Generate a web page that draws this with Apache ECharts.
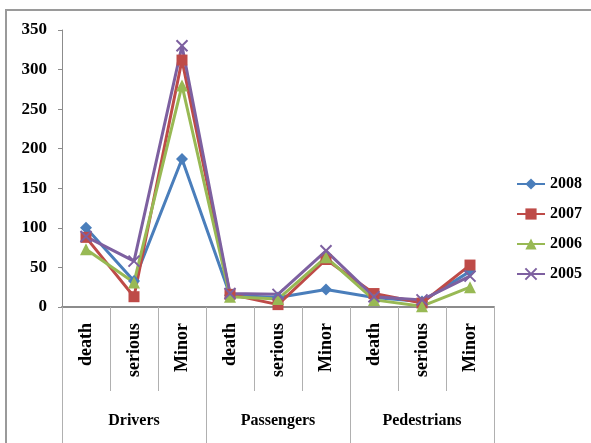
<!DOCTYPE html>
<html>
<head>
<meta charset="utf-8">
<script src="https://cdn.jsdelivr.net/npm/echarts@6/dist/echarts.min.js"></script>
<style>
  html, body { margin: 0; padding: 0; background: #fff; }
  #chart { width: 591px; height: 443px; }
</style>
</head>
<body>
<div id="chart"></div>
<script>
// Casualty categories (inner axis) and road-user groups (outer axis)
const categories = ['death', 'serious', 'Minor', 'death', 'serious', 'Minor', 'death', 'serious', 'Minor'];
const groups = ['Drivers', 'Passengers', 'Pedestrians'];
const yTicks = [0, 50, 100, 150, 200, 250, 300, 350];

// Yearly counts per category
const y2008 = [100, 33, 187, 15, 12, 22, 12, 7, 45];
const y2007 = [88, 13, 312, 16, 3, 60, 17, 5, 53];
const y2006 = [73, 31, 280, 13, 10, 63, 9, 1, 25];
const y2005 = [89, 58, 330, 17, 16, 71, 13, 9, 39];

const FONT = '"Liberation Serif", "Times New Roman", serif';
const crossPath = 'path://M0,0L10,10M10,0L0,10';

function lineSeries(name, data, color, symbol, size) {
  return {
    name: name,
    type: 'line',
    data: data,
    symbol: symbol,
    symbolSize: size,
    xAxisIndex: 0,
    lineStyle: { width: 3, color: color },
    itemStyle: { color: color, borderColor: color, borderWidth: symbol === crossPath ? 2 : 0 },
    z: 3
  };
}

const chart = echarts.init(document.getElementById('chart'));
chart.setOption({
  animation: false,
  backgroundColor: '#fff',
  graphic: [{
    type: 'rect',
    shape: { x: 6, y: 10, width: 620, height: 460 },
    style: { fill: 'none', stroke: '#9a9a9a', lineWidth: 2 },
    silent: true,
    z: -1
  }],
  grid: { left: 62, right: 97, top: 30, bottom: 136 },
  legend: {
    orient: 'vertical',
    left: 511,
    top: 171,
    itemGap: 14,
    itemWidth: 28,
    itemHeight: 14,
    textStyle: { fontFamily: FONT, fontWeight: 'bold', fontSize: 16, color: '#000' },
    data: ['2008', '2007', '2006', '2005']
  },
  xAxis: [{
    type: 'category',
    data: categories,
    position: 'bottom',
    boundaryGap: true,
    axisLine: { lineStyle: { color: '#8c8c8c', width: 2 } },
    axisTick: { show: true, length: 84, interval: 0, lineStyle: { color: '#b0b0b0', width: 1 } },
    axisLabel: {
      interval: 0, rotate: 90, margin: 16,
      fontFamily: FONT, fontWeight: 'bold', fontSize: 18, color: '#000'
    },
    splitLine: { show: false }
  }, {
    type: 'category',
    data: groups,
    position: 'bottom',
    boundaryGap: true,
    axisLine: { show: false },
    axisTick: { show: true, length: 140, interval: 0, lineStyle: { color: '#b0b0b0', width: 1 } },
    axisLabel: {
      interval: 0, margin: 106,
      fontFamily: FONT, fontWeight: 'bold', fontSize: 16, color: '#000'
    },
    splitLine: { show: false }
  }],
  yAxis: {
    type: 'value',
    min: yTicks[0],
    max: yTicks[yTicks.length - 1],
    interval: 50,
    axisLine: { show: true, lineStyle: { color: '#8c8c8c', width: 1 } },
    axisTick: { show: true, length: 4, lineStyle: { color: '#8c8c8c' } },
    axisLabel: { margin: 15, fontFamily: FONT, fontWeight: 'bold', fontSize: 17, color: '#000' },
    splitLine: { show: false }
  },
  series: [
    lineSeries('2008', y2008, '#4a7ebb', 'diamond', 12),
    lineSeries('2007', y2007, '#be4b48', 'rect', 11),
    lineSeries('2006', y2006, '#98b954', 'triangle', 12),
    lineSeries('2005', y2005, '#7d60a0', crossPath, 11)
  ]
});
</script>
</body>
</html>
